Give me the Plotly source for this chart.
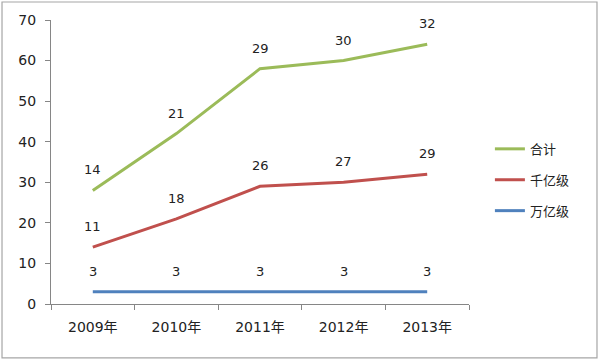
import numpy as np
import plotly.graph_objects as go

years = ["2009年", "2010年", "2011年", "2012年", "2013年"]
wanyi = [3, 3, 3, 3, 3]            # 万亿级
qianyi = [11, 18, 26, 27, 29]      # 千亿级
heji = [14, 21, 29, 30, 32]        # 合计

series = [("万亿级", wanyi, "#4F81BD", 3), ("千亿级", qianyi, "#C0504D", 2), ("合计", heji, "#9BBB59", 1)]

fig = go.Figure()
cum = np.zeros(len(years))
annotations = []
font_lbl = dict(family="DejaVu Sans, sans-serif", size=13, color="#222222")
font_tick = dict(family="DejaVu Sans, Noto Sans CJK SC, sans-serif", size=14, color="#222222")
for name, vals, color, rank in series:
    fig.add_trace(go.Scatter(
        x=years, y=vals, name=name, mode="lines", stackgroup="one", fill="none",
        line=dict(color=color, width=3), legendgroup=name, legendrank=rank,
    ))
    cum = cum + np.array(vals)
    for x, yv, v in zip(years, cum, vals):
        annotations.append(dict(x=x, y=float(yv), text=str(v), showarrow=False,
                                xref="x", yref="y", yanchor="bottom", yshift=11,
                                font=font_lbl))

fig.update_layout(
    width=600, height=361,
    margin=dict(l=51, r=131, t=20, b=57),
    paper_bgcolor="white", plot_bgcolor="white",
    showlegend=True,
    legend=dict(x=1.05, y=0.437, xanchor="left", yanchor="middle",
                traceorder="grouped", tracegroupgap=11,
                font=dict(family="Noto Sans CJK SC, sans-serif", size=13, color="#222222")),
    annotations=annotations,
    shapes=[dict(type="rect", xref="paper", yref="paper",
                 x0=-0.1172, x1=1.3062, y0=-0.190, y1=1.0634,
                 line=dict(color="#A6A6A6", width=1.2), fillcolor="rgba(0,0,0,0)", layer="below")],
)
fig.update_xaxes(type="category", range=[-0.5, 4.5], showgrid=False, showline=True,
                 linecolor="#868686", linewidth=1, ticks="outside", tickson="boundaries",
                 ticklen=5, tickcolor="#868686", tickfont=font_tick, ticklabelstandoff=10)
fig.update_yaxes(range=[0, 70], dtick=10, showgrid=False, showline=True, zeroline=False,
                 linecolor="#868686", linewidth=1, ticks="outside", ticklen=5, tickcolor="#868686",
                 tickfont=font_tick, ticklabelstandoff=6)

fig.write_html("out.html", config={"displayModeBar": False},
               post_script="document.body.style.margin='0';")
